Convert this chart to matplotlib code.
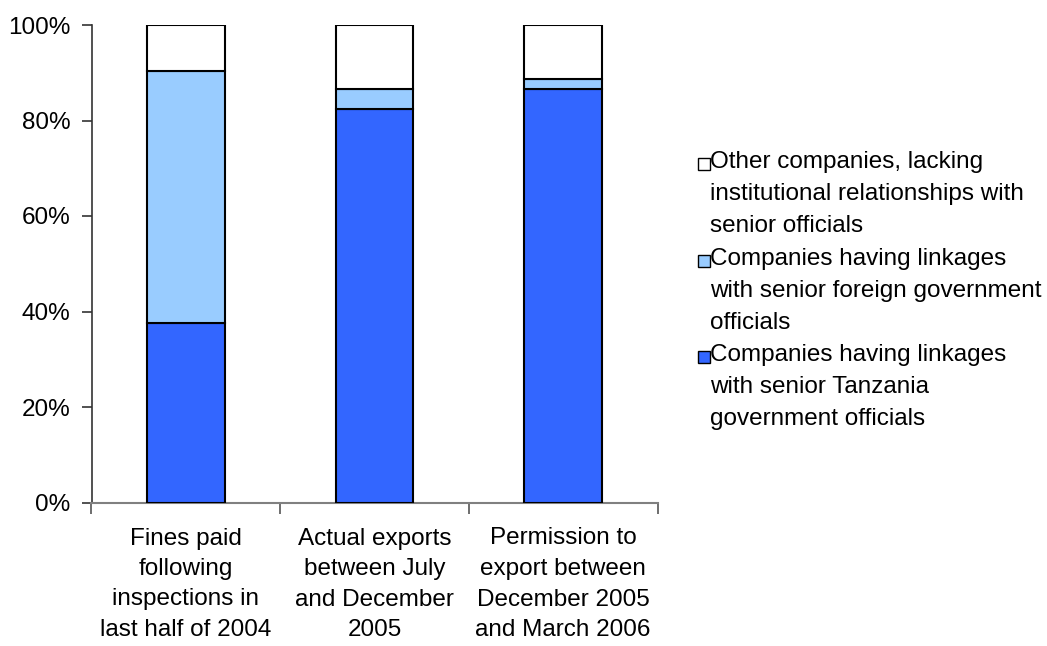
import matplotlib

matplotlib.use("Agg")
import matplotlib.pyplot as plt
from matplotlib.patches import Rectangle
import numpy as np

plt.rcParams["font.family"] = ["Liberation Sans", "DejaVu Sans"]

categories = [
    "Fines paid\nfollowing\ninspections in\nlast half of 2004",
    "Actual exports\nbetween July\nand December\n2005",
    "Permission to\nexport between\nDecember 2005\nand March 2006",
]
tanzania = [37.5, 82.5, 86.6]
foreign = [52.9, 4.1, 2.1]
other = [9.6, 13.4, 11.3]

series_labels = [
    "Other companies, lacking\ninstitutional relationships with\nsenior officials",
    "Companies having linkages\nwith senior foreign government\nofficials",
    "Companies having linkages\nwith senior Tanzania\ngovernment officials",
]
series_colors = ["#FFFFFF", "#99CCFF", "#3366FF"]

FS = 17.5

fig = plt.figure(figsize=(10.47, 6.46), dpi=100)
ax = fig.add_axes([91.5 / 1047, 1 - 502.5 / 646, (657.5 - 91.5) / 1047, (502.5 - 25) / 646])

x = np.arange(len(categories))
w = 0.41
bottom = np.zeros(len(categories))
for vals, col in zip([tanzania, foreign, other], series_colors[::-1]):
    ax.bar(x, vals, w, bottom=bottom, color=col, edgecolor="black", linewidth=1.5, zorder=3)
    bottom += np.array(vals)

ax.set_xlim(-0.5, len(categories) - 0.5)
ax.set_ylim(0, 100)
ax.set_yticks(np.arange(0, 101, 20))
ax.set_yticklabels([f"{v}%" for v in range(0, 101, 20)], fontsize=FS)
ax.set_xticks(x)
ax.set_xticklabels(categories, fontsize=FS, linespacing=1.5)
ax.tick_params(axis="x", length=0, pad=18)
ax.set_xticks(np.arange(-0.5, len(categories), 1.0), minor=True)
ax.tick_params(axis="x", which="minor", length=8, width=1.2, color="#555555")
ax.tick_params(axis="y", length=7, width=1.2, color="#333333", pad=8)

for s in ["top", "right"]:
    ax.spines[s].set_visible(False)
ax.spines["left"].set_color("#333333")
ax.spines["bottom"].set_color("#808080")
ax.spines["left"].set_linewidth(1.2)
ax.spines["bottom"].set_linewidth(1.5)

# legend, drawn by hand so the swatch sits on the first line
W, H = 1047, 646
first_line = [163, 260, 356]
for lab, col, yc in zip(series_labels, series_colors, first_line):
    fig.text(710 / W, 1 - (yc - 12) / H, lab, fontsize=FS, va="top", ha="left", linespacing=1.6)
    fig.patches.append(Rectangle((698 / W, 1 - (yc + 7) / H), 12 / W, 12 / H,
                                 transform=fig.transFigure, facecolor=col,
                                 edgecolor="black", linewidth=1.0))

fig.savefig("out.png", dpi=100)
